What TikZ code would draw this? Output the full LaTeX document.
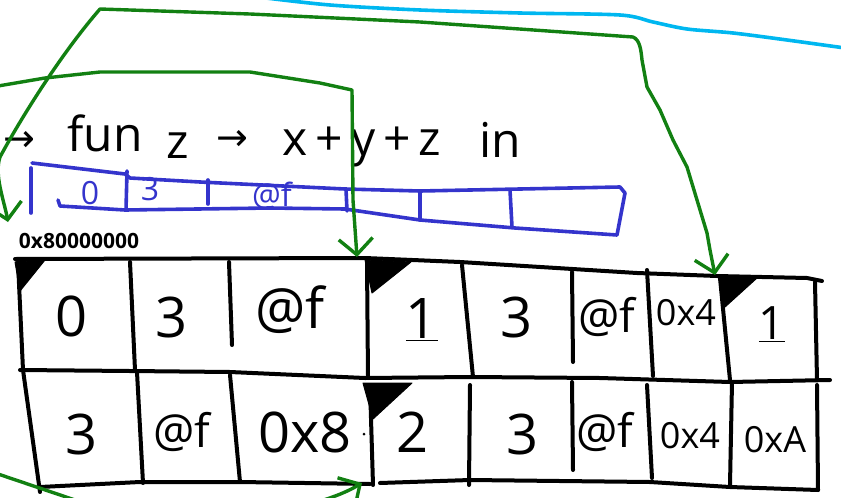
\documentclass[tikz,border=0pt]{standalone}
\usepackage{fontspec}
\setmainfont{Open Sans}
\newfontfamily\arrowfont{DejaVu Sans}
\usetikzlibrary{arrows.meta}
\definecolor{penblue}{RGB}{52,52,204}
\definecolor{pengreen}{RGB}{18,128,18}
\definecolor{pencyan}{RGB}{0,183,240}

\begin{document}
\begin{tikzpicture}[x=1pt,y=-1pt,>={Straight Barb[length=16pt,width=34pt]},
  ink/.style={line width=4pt,line cap=round,line join=round},
  blueink/.style={ink,penblue,line width=3.6pt},
  greenink/.style={line width=3.4pt,pengreen,line cap=round,line join=round},
  hand/.style={inner sep=0pt,font=\fontsize{48}{52}\selectfont},
  handarrow/.style={inner sep=0pt,font=\arrowfont\fontsize{38}{42}\selectfont},
  bigval/.style={inner sep=0pt,font=\fontsize{56}{60}\selectfont},
  midval/.style={inner sep=0pt,font=\fontsize{46}{50}\selectfont},
  smallval/.style={inner sep=0pt,font=\fontsize{36}{40}\selectfont},
  blueval/.style={inner sep=0pt,penblue,font=\fontsize{32}{36}\selectfont},
  marker/.style={fill=black,draw=black,line width=1pt,line join=round}]
  \useasboundingbox (0,0) rectangle (841,498);
  \clip (0,0) rectangle (841,498);

  \draw[pencyan,line width=3.6pt] plot[smooth] coordinates {(258,-3) (330,5) (420,10) (520,13) (620,15) (653,22) (687,29) (733,33) (787,40) (845,48)};

  \node[handarrow] (w1) at (19,141) {→};
  \node[hand] (w2) at (105,133) {fun};
  \node[hand] (w3) at (178,146) {z};
  \node[handarrow] (w4) at (232,140) {→};
  \node[hand] (w5) at (362,147) {x\,+\,y\,+\,z};
  \node[hand] (w6) at (500,140) {in};

  \draw[blueink] (32,163) -- (125,174) -- (130,178) -- (200,182) -- (345,189) -- (420,191) -- (520,189) -- (620,187) -- (625,193) -- (617,235)
    -- (515,228) -- (420,220) -- (345,209) -- (270,208) -- (125,210) -- (60,206) -- (58,200);
  \draw[blueink] (31,168) -- (31,213);
  \foreach \xa/\ya/\xb/\yb in {127/171/126/210, 208/180/208/204, 346/189/347/211, 420/191/420/220, 510/190/512/227}
    \draw[blueink] (\xa,\ya) -- (\xb,\yb);
  \node[blueval] (b1) at (90,193) {0};
  \node[blueval] (b2) at (150,189) {3};
  \node[blueval] (b3) at (272,196) {@f};

  \node[inner sep=0pt,font=\bfseries\fontsize{21}{24}\selectfont] (addr) at (79,241) {0x80000000};

  \draw[ink] (15,259) -- (365,258) -- (460,262) -- (637,273) -- (717,276) -- (807,278) -- (822,281);
  \draw[ink] (20,370) -- (130,371) -- (230,372) -- (365,378) -- (470,377) -- (600,378) -- (730,382) -- (830,380);
  \draw[ink] (40,487) -- (140,482) -- (240,482) -- (370,484);
  \draw[ink] (380,483) -- (470,480) -- (650,482) -- (730,487) -- (818,490);
  \foreach \xa/\ya/\xb/\yb in {18/262/23/370, 130/262/135/370, 229/262/232/345, 367/262/368/378, 462/265/473/377,
      572/272/573/362, 647/270/653/376, 720/278/730/380, 815/282/817/380,
      23/370/40/492, 137/372/143/483, 230/375/240/482, 370/385/373/485, 470/385/469/485,
      572/382/573/470, 647/385/652/478, 732/382/730/485, 817/385/818/490}
    \draw[ink] (\xa,\ya) -- (\xb,\yb);

  \filldraw[marker] (15,262) -- (45,260) -- (20,291) -- cycle;
  \filldraw[marker] (365,260) -- (411,262) -- (372,293) -- cycle;
  \filldraw[marker] (363,383) -- (412,383) -- (373,419) -- cycle;
  \filldraw[marker] (720,278) -- (757,278) -- (725,307) -- cycle;

  \node[bigval] (v11) at (72,316) {0};
  \node[bigval] (v12) at (172,317) {3};
  \node[bigval] (v13) at (290,310) {@f};
  \node[bigval] (v14) at (422,320) {\underline{1}};
  \node[bigval] (v15) at (517,317) {3};
  \node[midval] (v16) at (607,317) {@f};
  \node[smallval] (v17) at (686,313) {0x4};
  \node[midval] (v18) at (772,324) {\underline{1}};
  \node[bigval] (v21) at (82,434) {3};
  \node[midval] (v22) at (182,432) {@f};
  \node[bigval] (v23) at (305,432) {0x8};
  \fill (364,434) circle (1.5);
  \node[bigval] (v24) at (413,432) {2};
  \node[bigval] (v25) at (523,434) {3};
  \node[midval] (v26) at (605,432) {@f};
  \node[smallval] (v27) at (690,436) {0x4};
  \node[smallval] (v28) at (775,440) {0xA};

  \coordinate (top1) at (715,275);
  \coordinate (top2) at (357,257);
  \coordinate (side1) at (8,222);
  \coordinate (foot1) at (362,483);
  \draw[greenink,<->] (side1) .. controls (4,200) and (-6,175) .. (0,157) .. controls (20,120) and (60,55) .. (100,9)
    -- (250,14) -- (420,22) -- (633,37) .. controls (640,40) and (641,50) .. (642,60) -- (647,87) -- (660,110)
    -- (673,140) -- (687,167) -- (697,200) -- (707,233) -- (710,250) -- (top1);
  \draw[greenink,->] (-2,86) -- (45,78) -- (100,72) -- (250,72) -- (320,83) -- (352,90) -- (353,200) -- (top2);
  \draw[greenink,->] (-2,474) -- (75,500) .. controls (150,530) and (300,520) .. (foot1);
\end{tikzpicture}
\end{document}
